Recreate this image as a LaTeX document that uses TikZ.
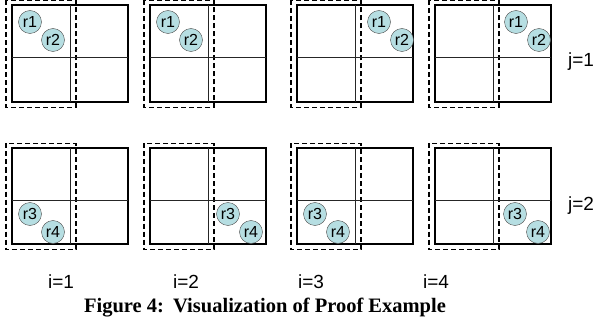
\documentclass[tikz,border=0pt]{standalone}
\usepackage{fontspec}
\setmainfont{Liberation Sans}
\newfontfamily\capfont{Liberation Serif}

\definecolor{robotfill}{RGB}{182,222,226}

\tikzset{
  frame/.style={line width=1.8pt},
  cellline/.style={line width=0.8pt, black!85},
  window/.style={line width=1.4pt, dash pattern=on 5pt off 3pt},
  robot/.style={draw=black!70, fill=robotfill, circle, inner sep=0pt,
    minimum size=23pt, font=\fontsize{16}{16}\selectfont},
  axislabel/.style={anchor=base, font=\fontsize{19}{19}\selectfont}
}

\begin{document}
\begin{tikzpicture}[x=1pt, y=-1pt]
  \useasboundingbox (0,0) rectangle (598,321);

  % grids, with the dashed window on the left column
  \foreach \x in {12,150,297,435} {
    \foreach \y/\h/\b in {5/57/102, 148/200/244} {
      \draw[window] (\x-6,\y-4.5) rectangle (\x+64,\b+5.5);
      \draw[frame] (\x,\y) rectangle (\x+116,\b);
      \draw[cellline] (\x+58,\y) -- (\x+58,\b);
      \draw[cellline] (\x,\h) -- (\x+116,\h);
    }
  }

  % robots
  \foreach \n/\x/\y/\a/\b in {1/30/22/r1/r2, 2/168/22/r1/r2, 3/379/22/r1/r2,
      4/516/22/r1/r2, 5/30/214/r3/r4, 6/228/214/r3/r4, 7/315/214/r3/r4,
      8/515/214/r3/r4} {
    \node[robot] (\a-\n) at (\x,\y) {\a};
    \node[robot] (\b-\n) at (\x+23,\y+18) {\b};
  }

  \node[axislabel] (j1) at (581,67) {j=1};
  \node[axislabel] (j2) at (581,211) {j=2};

  \node[axislabel] (i1) at (61,288) {i=1};
  \node[axislabel] (i2) at (186,288) {i=2};
  \node[axislabel] (i3) at (311,288) {i=3};
  \node[axislabel] (i4) at (436,288) {i=4};

  \node[anchor=base, font=\capfont\bfseries\fontsize{20.5}{20.5}\selectfont]
    (caption) at (265,312) {Figure 4:\hspace{0.45em}Visualization of Proof Example};
\end{tikzpicture}
\end{document}
